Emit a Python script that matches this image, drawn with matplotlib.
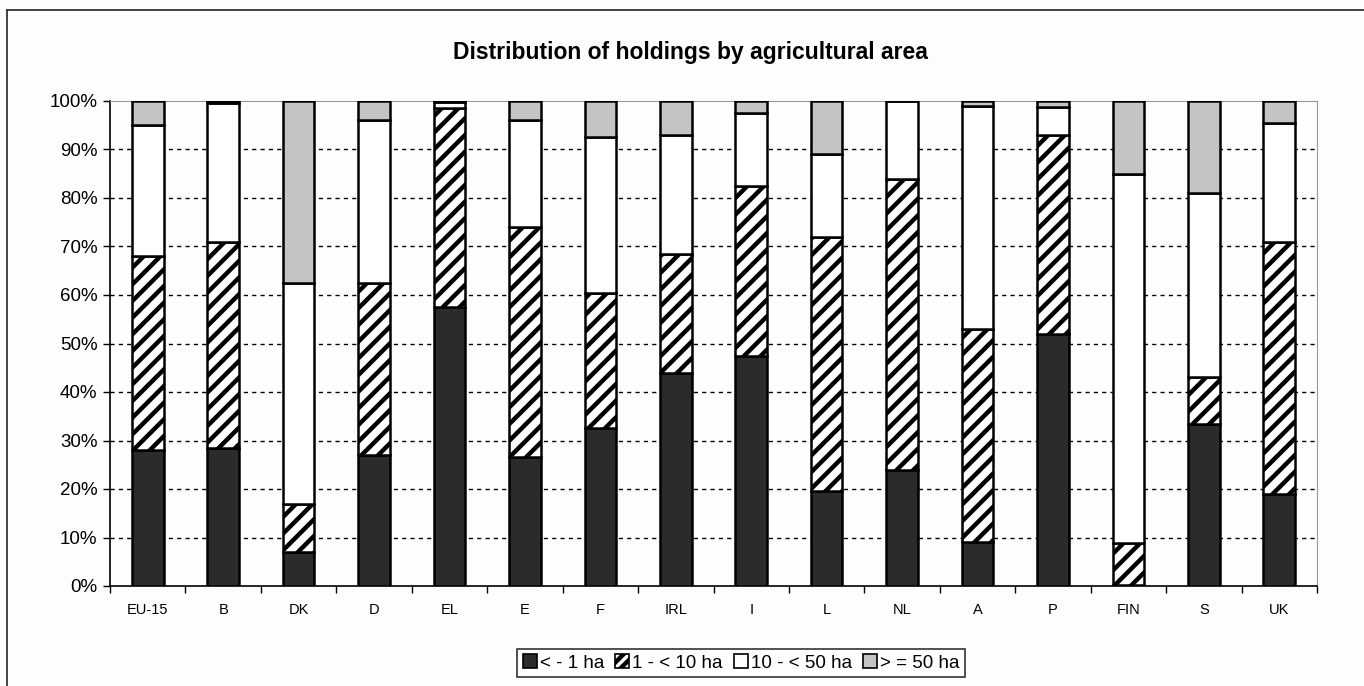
import matplotlib
matplotlib.use("Agg")
import matplotlib.pyplot as plt
from matplotlib.lines import Line2D
from matplotlib.patches import Patch
import numpy as np

plt.rcParams['font.family'] = ['Liberation Sans', 'DejaVu Sans']
plt.rcParams['hatch.linewidth'] = 3.2

countries = ["EU-15", "B", "DK", "D", "EL", "E", "F", "IRL", "I", "L",
             "NL", "A", "P", "FIN", "S", "UK"]

# Share of holdings (%) per size class
under_1 = [28.0, 28.5, 7.0, 27.0, 57.5, 26.5, 32.5, 44.0, 47.5, 19.5,
           24.0, 9.0, 52.0, 0.3, 33.5, 19.0]
from_1_to_10 = [40.0, 42.5, 10.0, 35.5, 41.0, 47.5, 28.0, 24.5, 35.0, 52.5,
                60.0, 44.0, 41.0, 8.5, 9.5, 52.0]
from_10_to_50 = [27.0, 28.5, 45.5, 33.5, 1.3, 22.0, 32.0, 24.5, 15.0, 17.0,
                 16.0, 46.0, 5.7, 76.2, 38.0, 24.5]
over_50 = [5.0, 0.5, 37.5, 4.0, 0.2, 4.0, 7.5, 7.0, 2.5, 11.0,
           0.0, 1.0, 1.3, 15.0, 19.0, 4.5]

labels = ["< - 1 ha", "1 - < 10 ha", "10 - < 50 ha", "> = 50 ha"]

fig = plt.figure(figsize=(13.64, 6.86), dpi=100, facecolor='#fdfdfd')
ax = fig.add_axes([110 / 1364, 1 - 586 / 686, (1317 - 110) / 1364, (586 - 101) / 686])
ax.set_facecolor('#fdfdfd')

x = np.arange(len(countries))
w = 0.42
edge = dict(edgecolor='black', linewidth=1.8)

b0 = np.zeros(len(countries))
ax.bar(x, under_1, w, bottom=b0, color='#2b2b2b', zorder=3, **edge)
b1 = b0 + np.array(under_1)
ax.bar(x, from_1_to_10, w, bottom=b1, color='white', hatch='//', zorder=3, **edge)
b2 = b1 + np.array(from_1_to_10)
ax.bar(x, from_10_to_50, w, bottom=b2, color='white', zorder=3, **edge)
b3 = b2 + np.array(from_10_to_50)
ax.bar(x, over_50, w, bottom=b3, color='#c4c4c4', zorder=3, **edge)

ax.set_xlim(-0.5, len(countries) - 0.5)
ax.set_ylim(0, 100)
ax.set_yticks(np.arange(0, 101, 10))
ax.set_yticklabels([f"{v}%" for v in range(0, 101, 10)], fontsize=13.5)
ax.set_xticks(x)
ax.set_xticklabels(countries, fontsize=10.5)
ax.tick_params(axis='x', length=0, pad=12)
ax.set_xticks(np.arange(-0.5, len(countries), 1), minor=True)
ax.tick_params(axis='x', which='minor', length=5, width=1, direction='out')
ax.tick_params(axis='y', length=5, width=1, direction='out', pad=4)

for y in range(10, 100, 10):
    ax.axhline(y, color='black', linestyle=(0, (3, 3)), linewidth=1.0, zorder=1)

for s in ['left', 'bottom']:
    ax.spines[s].set_color('black')
    ax.spines[s].set_linewidth(1.2)
for s in ['top', 'right']:
    ax.spines[s].set_color('#999999')
    ax.spines[s].set_linewidth(0.8)

fig.text(690 / 1364, 1 - 53 / 686, "Distribution of holdings by agricultural area",
         ha='center', va='center', fontsize=16.5, fontweight='bold')

handles = [
    Patch(facecolor='#2b2b2b', edgecolor='black', linewidth=1.2),
    Patch(facecolor='white', edgecolor='black', linewidth=1.2, hatch='///'),
    Patch(facecolor='white', edgecolor='black', linewidth=1.2),
    Patch(facecolor='#c4c4c4', edgecolor='black', linewidth=1.2),
]
leg = fig.legend(handles, labels, loc='center', bbox_to_anchor=(741 / 1364, 1 - 663 / 686),
                 ncol=4, fontsize=13.5, frameon=True, fancybox=False,
                 handlelength=0.75, handleheight=0.75, handletextpad=0.15,
                 columnspacing=0.6, borderpad=0.3, borderaxespad=0)
leg.get_frame().set_edgecolor('black')
leg.get_frame().set_linewidth(1.2)
leg.get_frame().set_facecolor('white')

# outer frame of the chart area
fig.add_artist(Line2D([7 / 1364, 7 / 1364], [0, 1 - 10 / 686], transform=fig.transFigure,
                      color='#333333', linewidth=1.3))
fig.add_artist(Line2D([7 / 1364, 1], [1 - 10 / 686, 1 - 10 / 686], transform=fig.transFigure,
                      color='#333333', linewidth=1.3))

fig.savefig("out.png", dpi=100, facecolor=fig.get_facecolor())
